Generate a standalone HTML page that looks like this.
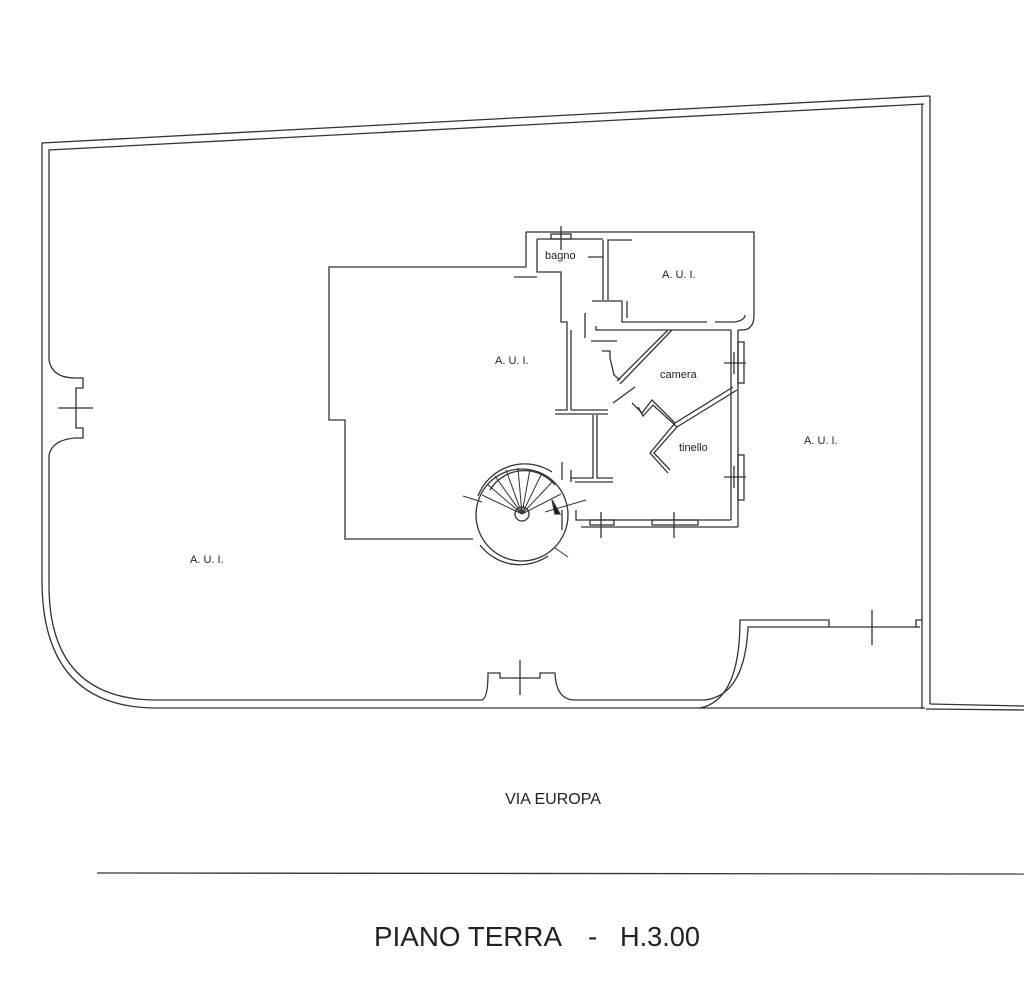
<!DOCTYPE html>
<html><head><meta charset="utf-8"><style>
html,body{margin:0;padding:0;background:#fff;}
svg{display:block;}
text{font-family:"Liberation Sans",sans-serif;fill:#222;}
</style></head><body>
<svg width="1024" height="988" viewBox="0 0 1024 988" xmlns="http://www.w3.org/2000/svg">
<g fill="none" stroke="#333" stroke-width="1.3">
<!-- outer boundary -->
<polyline points="42,580 42,143 928,96 930,96"/>
<polyline points="49,360 49,150 924,104"/>
<path d="M42,580 Q42,708 157,708 L925,708"/>
<path d="M49,455 L49,585 Q49,700 157,700 L482,700 Q488,698 488,673 L500,673 L500,678 L540,678 L540,673 L555,673 Q556,700 575,700 L705,700 Q745,695 748,627 L920,627"/>
<path d="M700,708 Q740,700 740,620 L829,620 L829,627"/>
<polyline points="916,627 916,620 922,620"/>
<line x1="922" y1="104" x2="922" y2="709"/>
<line x1="930" y1="96" x2="930" y2="704"/>
<line x1="930" y1="704" x2="1024" y2="706"/>
<line x1="926" y1="709" x2="1024" y2="710"/>
<!-- left niche -->
<path d="M49,360 Q52,378 75,378 L83,378 L83,388 L76,388 L76,428 L83,428 L83,438 L75,438 Q52,440 49,455"/>
<line x1="58" y1="408" x2="93" y2="408"/>
<line x1="520" y1="660" x2="520" y2="695"/>
<line x1="872" y1="610" x2="872" y2="645"/>
<!-- street -->
<line x1="97" y1="873" x2="1024" y2="874"/>
<!-- building -->
<polyline points="526,232 526,267 329,267 329,420 345,420 345,539 473,539"/>
<path d="M526,232 L754,232 L754,315 Q754,330 742,330 L738,330"/>
<polyline points="537,239 537,272 561,272 561,322 567,322 567,410 555,410"/>
<line x1="537" y1="239" x2="603" y2="239"/>
<line x1="514" y1="277" x2="537" y2="277"/>
<polyline points="588,257 603,257 603,240"/>
<line x1="603" y1="257" x2="603" y2="300"/>
<polyline points="608,300 608,240 632,240"/>
<polyline points="592,301 622,301 622,322 707,322"/>
<polyline points="627,301 627,318"/>
<path d="M715,322 L735,322 Q745,320 745,315"/>
<polyline points="596,326 596,330 731,330"/>
<line x1="571" y1="330" x2="571" y2="410"/>
<line x1="585" y1="313" x2="585" y2="338"/>
<line x1="591" y1="341" x2="617" y2="341"/>
<polyline points="571,410 608,410"/>
<polyline points="555,414 608,414"/>
<polyline points="593,415 593,478 571,478"/>
<polyline points="597,415 597,478 613,478"/>
<line x1="575" y1="482" x2="613" y2="482"/>
<line x1="571" y1="470" x2="571" y2="482"/>
<!-- camera diagonal -->
<line x1="668" y1="330" x2="617" y2="381"/>
<line x1="672" y1="330" x2="620" y2="384"/>
<polyline points="602,351 610,351 610,358 614,375 620,380"/>
<line x1="613" y1="403" x2="635" y2="387"/>
<!-- tinello zigzag -->
<polyline points="632,403 642,413 652,400 675,423 733,387"/>
<polyline points="638,407 643,416 653,405 677,427 737,390"/>
<polyline points="675,423 650,453 668,473"/>
<polyline points="677,427 654,453 670,470"/>
<!-- right wall -->
<line x1="731" y1="330" x2="731" y2="520"/>
<line x1="738" y1="330" x2="738" y2="527"/>
<rect x="738" y="342" width="6" height="41"/>
<rect x="738" y="455" width="6" height="45"/>
<line x1="724" y1="363" x2="746" y2="363"/>
<line x1="734" y1="352" x2="734" y2="374"/>
<line x1="724" y1="477" x2="746" y2="477"/>
<line x1="734" y1="466" x2="734" y2="488"/>
<!-- bottom wall -->
<polyline points="576,510 576,520 731,520"/>
<line x1="581" y1="527" x2="738" y2="527"/>
<rect x="590" y="520" width="24" height="5"/>
<rect x="652" y="520" width="46" height="5"/>
<line x1="601" y1="512" x2="601" y2="538"/>
<line x1="674" y1="512" x2="674" y2="538"/>
<!-- spiral stair -->
<circle cx="522" cy="515" r="46"/>
<path d="M478,496 A50,50 0 0 1 552,472"/>
<path d="M548,556 A50,50 0 0 1 480,545"/>
<circle cx="522" cy="514" r="7"/>
<path d="M490,490 A40,40 0 0 1 555,485"/>
<g stroke-width="1">
<line x1="522" y1="514" x2="482" y2="495"/>
<line x1="522" y1="514" x2="487" y2="484"/>
<line x1="522" y1="514" x2="495" y2="476"/>
<line x1="522" y1="514" x2="506" y2="470"/>
<line x1="522" y1="514" x2="518" y2="468"/>
<line x1="522" y1="514" x2="530" y2="469"/>
<line x1="522" y1="514" x2="542" y2="473"/>
<line x1="522" y1="514" x2="553" y2="481"/>
<line x1="522" y1="514" x2="561" y2="494"/>
<line x1="463" y1="496" x2="482" y2="502"/>
<line x1="545" y1="512" x2="586" y2="500"/>
<line x1="555" y1="548" x2="568" y2="557"/>
</g>
<path d="M552,500 L560,514 L555,514 Z" fill="#111"/>
<line x1="562" y1="510" x2="562" y2="530"/>
<line x1="562" y1="462" x2="562" y2="480"/>
<line x1="561" y1="226" x2="561" y2="250"/>
<rect x="551" y="234" width="20" height="5"/>
</g>
<g font-size="11">
<text x="545" y="259">bagno</text>
<text x="662" y="278">A. U. I.</text>
<text x="495" y="364">A. U. I.</text>
<text x="660" y="378">camera</text>
<text x="679" y="451">tinello</text>
<text x="804" y="444">A. U. I.</text>
<text x="190" y="563">A. U. I.</text>
</g>
<text x="553" y="804" font-size="16" text-anchor="middle">VIA EUROPA</text>
<g font-size="27.5">
<text x="374" y="946" textLength="188" lengthAdjust="spacingAndGlyphs">PIANO TERRA</text>
<text x="588" y="946">-</text>
<text x="620" y="946" textLength="80" lengthAdjust="spacingAndGlyphs">H.3.00</text>
</g>
</svg>
</body></html>
